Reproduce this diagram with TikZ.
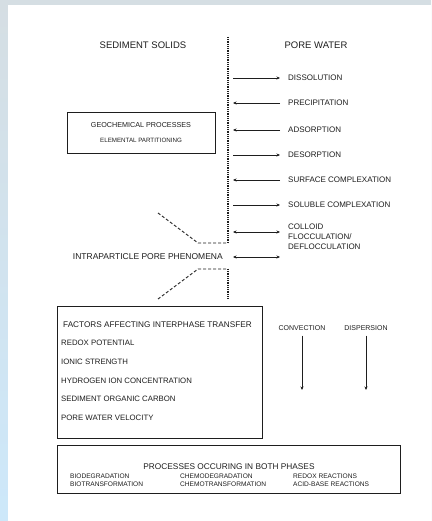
\documentclass[tikz,border=0pt]{standalone}
\usepackage{fontspec}
\setmainfont{Liberation Sans}
\usetikzlibrary{arrows.meta}
\definecolor{stripTop}{RGB}{213,222,227}
\definecolor{stripBot}{RGB}{205,232,250}
\definecolor{ink}{RGB}{30,30,30}
\tikzset{
  hdr/.style={inner sep=0pt, font=\fontsize{9.5}{10}\selectfont, text=ink},
  lbl/.style={inner sep=0pt, anchor=west, font=\fontsize{8}{10}\selectfont, text=ink},
  small/.style={inner sep=0pt, font=\fontsize{7.2}{8}\selectfont, text=ink},
  item/.style={inner sep=0pt, anchor=west, font=\fontsize{7.8}{8}\selectfont, text=ink},
  boxline/.style={draw=ink, line width=0.8pt},
  arr/.style={draw=ink, line width=0.8pt, -{Stealth[length=3.5pt,width=3pt]}},
  darr/.style={draw=ink, line width=0.8pt, {Stealth[length=3.5pt,width=3pt]}-{Stealth[length=3.5pt,width=3pt]}},
  dotline/.style={draw=ink, line width=1.1pt, dash pattern=on 0.9pt off 0.9pt},
  dashline/.style={draw=ink, line width=0.9pt, dash pattern=on 3pt off 2pt},
}
\begin{document}
\begin{tikzpicture}[x=1pt,y=-1pt]
\useasboundingbox (0,0) rectangle (431,521);
\shade[top color=stripTop, bottom color=stripBot] (0,0) rectangle (431,521);
\fill[white] (8,5) rectangle (431,521);

% headers
\node[hdr] (sed) at (143,45) {SEDIMENT SOLIDS};
\node[hdr] (pw) at (316,45) {PORE WATER};

% interface line
\coordinate (top) at (228,37);
\coordinate (c1) at (228,243);
\coordinate (c2) at (198,243);
\coordinate (c3) at (158,213);
\coordinate (d1) at (228,269);
\coordinate (d2) at (198,269);
\coordinate (d3) at (158,299);
\coordinate (bot) at (228,298);
\draw[dotline] (top) -- (c1);
\draw[dashline] (c3) -- (c2) -- (c1);
\draw[dotline] (d1) -- (bot);
\draw[dashline] (d3) -- (d2) -- (d1);

% right labels
\node[lbl] (dis) at (288,78) {DISSOLUTION};
\node[lbl] (pre) at (288,103) {PRECIPITATION};
\node[lbl] (ads) at (288,130) {ADSORPTION};
\node[lbl] (des) at (288,155) {DESORPTION};
\node[lbl] (sur) at (288,180) {SURFACE COMPLEXATION};
\node[lbl] (sol) at (288,205) {SOLUBLE COMPLEXATION};
\node[lbl, align=left, font=\fontsize{8}{10}\selectfont] (col) at (288,237) {COLLOID\\FLOCCULATION/\\DEFLOCCULATION};
\node[inner sep=0pt, anchor=east, font=\fontsize{8.5}{10}\selectfont, text=ink] (intra) at (223,257) {INTRAPARTICLE PORE PHENOMENA};

\foreach \n/\y in {dis/78,pre/103,ads/130,des/155,sur/180,sol/205,col/232,intra/257}{
  \coordinate (L\n) at (233,\y);
  \coordinate (R\n) at (280,\y);
}
\draw[arr] (Ldis) -- (Rdis);
\draw[arr] (Rpre) -- (Lpre);
\draw[arr] (Rads) -- (Lads);
\draw[arr] (Ldes) -- (Rdes);
\draw[arr] (Rsur) -- (Lsur);
\draw[arr] (Lsol) -- (Rsol);
\draw[darr] (Lcol) -- (Rcol);
\draw[darr] (Lintra) -- (Rintra);

% geochemical box
\draw[boxline] (67,112) rectangle (215,153);
\node[small] (geo) at (141,125) {GEOCHEMICAL PROCESSES};
\node[inner sep=0pt, font=\fontsize{6.2}{8}\selectfont, text=ink] (elem) at (141,140) {ELEMENTAL PARTITIONING};

% factors box
\draw[boxline] (57,306) rectangle (262,438);
\node[inner sep=0pt, anchor=west, font=\fontsize{8.2}{10}\selectfont, text=ink] (fac) at (63,325) {FACTORS AFFECTING INTERPHASE TRANSFER};
\node[item] (f1) at (61,343) {REDOX POTENTIAL};
\node[item] (f2) at (61,362) {IONIC STRENGTH};
\node[item] (f3) at (61,381) {HYDROGEN ION CONCENTRATION};
\node[item] (f4) at (61,399) {SEDIMENT ORGANIC CARBON};
\node[item] (f5) at (61,418) {PORE WATER VELOCITY};

% convection / dispersion
\node[inner sep=0pt, font=\fontsize{7}{8}\selectfont, text=ink] (conv) at (302,328) {CONVECTION};
\node[inner sep=0pt, font=\fontsize{7}{8}\selectfont, text=ink] (disp) at (366,328) {DISPERSION};
\coordinate (conve) at (302,390);
\coordinate (dispe) at (366,390);
\draw[arr] ([yshift=-5pt]conv.south) -- (conve);
\draw[arr] ([yshift=-5pt]disp.south) -- (dispe);

% processes box
\draw[boxline] (57,445) rectangle (400,493);
\node[inner sep=0pt, font=\fontsize{8.3}{10}\selectfont, text=ink] (proc) at (229,467) {PROCESSES OCCURING IN BOTH PHASES};
\node[inner sep=0pt, anchor=north west, align=left, font=\fontsize{6.6}{8}\selectfont, text=ink] (p1) at (70,474) {BIODEGRADATION\\BIOTRANSFORMATION};
\node[inner sep=0pt, anchor=north west, align=left, font=\fontsize{6.6}{8}\selectfont, text=ink] (p2) at (180,474) {CHEMODEGRADATION\\CHEMOTRANSFORMATION};
\node[inner sep=0pt, anchor=north west, align=left, font=\fontsize{6.6}{8}\selectfont, text=ink] (p3) at (293,474) {REDOX REACTIONS\\ACID-BASE REACTIONS};
\end{tikzpicture}
\end{document}
